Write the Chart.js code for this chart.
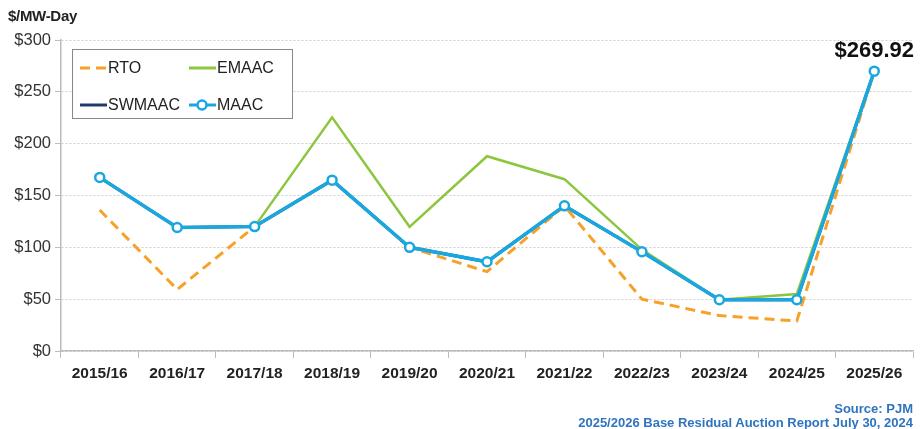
<!DOCTYPE html>
<html>
<head>
<meta charset="utf-8">
<script src="https://cdn.jsdelivr.net/npm/chart.js@4.4.1/dist/chart.umd.min.js"></script>
<style>
  html, body { margin: 0; padding: 0; background: #fff; }
  #wrap { position: relative; width: 920px; height: 429px; }
  #unit { position: absolute; left: 8px; top: 7px; font: bold 15px "Liberation Sans", Arial, sans-serif; color: #222; letter-spacing: -0.3px; }
  #source { position: absolute; right: 7px; top: 402px; text-align: right; font: bold 13px "Liberation Sans", Arial, sans-serif; color: #2f74c0; line-height: 14px; }
</style>
</head>
<body>
<div id="wrap">
  <canvas id="chart" width="920" height="429"></canvas>
  <div id="unit">$/MW-Day</div>
  <div id="source">Source: PJM<br>2025/2026 Base Residual Auction Report July 30, 2024</div>
</div>
<script>
// auction years
const years = ['2015/16', '2016/17', '2017/18', '2018/19', '2019/20', '2020/21',
               '2021/22', '2022/23', '2023/24', '2024/25', '2025/26'];

// clearing prices, $/MW-day
const rto    = [136.00, 59.37, 120.00, 164.77, 100.00, 76.53, 140.00, 50.00, 34.13, 28.92, 269.92];
const emaac  = [167.46, 119.13, 120.00, 225.42, 119.77, 187.87, 165.73, 97.86, 49.49, 54.95, 269.92];
const swmaac = [167.46, 119.13, 120.00, 164.77, 100.00, 86.04, 140.00, 95.79, 49.49, 49.49, 269.92];
const maac   = [167.46, 119.13, 120.00, 164.77, 100.00, 86.04, 140.00, 95.79, 49.49, 49.49, 269.92];

const yTicks = [0, 50, 100, 150, 200, 250, 300];

const FONT = '"Liberation Sans", Arial, sans-serif';

// last point label ($269.92)
const lastLabel = {
    id: 'lastLabel',
    afterDatasetsDraw(chart) {
        const meta = chart.getDatasetMeta(3);
        const pt = meta.data[meta.data.length - 1];
        const ctx = chart.ctx;
        ctx.save();
        ctx.font = 'bold 22px ' + FONT;
        ctx.fillStyle = '#111';
        ctx.textAlign = 'center';
        ctx.textBaseline = 'bottom';
        ctx.fillText('$' + maac[maac.length - 1].toFixed(2), pt.x, pt.y - 9);
        ctx.restore();
    }
};

// boxed legend, 2 x 2 inside the plot
const boxLegend = {
    id: 'boxLegend',
    afterDraw(chart) {
        const ctx = chart.ctx;
        const ds = chart.data.datasets;
        const x0 = 72, y0 = 49, w = 220, h = 69;
        ctx.save();
        ctx.fillStyle = '#fff';
        ctx.fillRect(x0, y0, w, h);
        ctx.strokeStyle = '#888';
        ctx.lineWidth = 1;
        ctx.strokeRect(x0 + 0.5, y0 + 0.5, w, h);
        const cells = [[0, 80, 68], [1, 189, 68], [2, 80, 105], [3, 189, 105]];
        ctx.font = '16px ' + FONT;
        ctx.textBaseline = 'middle';
        cells.forEach(([i, x, y]) => {
            const d = ds[i];
            ctx.strokeStyle = d.borderColor;
            ctx.lineWidth = 3;
            ctx.setLineDash(d.borderDash || []);
            ctx.beginPath();
            ctx.moveTo(x, y);
            ctx.lineTo(x + 27, y);
            ctx.stroke();
            ctx.setLineDash([]);
            if (d.pointRadius > 0) {
                ctx.beginPath();
                ctx.arc(x + 13, y, 4.5, 0, Math.PI * 2);
                ctx.fillStyle = '#fff';
                ctx.fill();
                ctx.lineWidth = 2.5;
                ctx.stroke();
            }
            ctx.fillStyle = '#222';
            ctx.textAlign = 'left';
            ctx.fillText(d.label, x + 28, y + 1);
        });
        ctx.restore();
    }
};

new Chart(document.getElementById('chart'), {
    type: 'line',
    data: {
        labels: years,
        datasets: [
            { label: 'RTO', data: rto, borderColor: '#f7a128', borderWidth: 3, borderDash: [10, 6],
              pointRadius: 0, order: 3, tension: 0 },
            { label: 'EMAAC', data: emaac, borderColor: '#8cc63e', borderWidth: 2.5,
              pointRadius: 0, order: 2, tension: 0 },
            { label: 'SWMAAC', data: swmaac, borderColor: '#1f3b6e', borderWidth: 3,
              pointRadius: 0, order: 4, tension: 0 },
            { label: 'MAAC', data: maac, borderColor: '#1aa7e0', borderWidth: 3.5,
              pointRadius: 4.5, pointBorderWidth: 2.5, pointBackgroundColor: '#fff',
              pointBorderColor: '#1aa7e0', order: 1, tension: 0 }
        ]
    },
    options: {
        responsive: false,
        animation: false,
        layout: { padding: { top: 40, right: 3, left: 0, bottom: 38 } },
        plugins: { legend: { display: false }, tooltip: { enabled: false } },
        scales: {
            x: {
                offset: true,
                grid: { offset: true, drawOnChartArea: false, drawTicks: true, tickLength: 7, color: '#bbb' },
                border: { color: '#bbb', width: 1.5 },
                ticks: { color: '#222', font: { family: FONT, size: 15.5, weight: 'bold' }, padding: 6, maxRotation: 0 },
                afterFit(s) { s.height = 40; }
            },
            y: {
                min: 0, max: 300,
                afterBuildTicks(s) { s.ticks = yTicks.map(v => ({ value: v })); },
                grid: { color: '#cfcfcf', tickLength: 6, tickColor: '#bbb', tickBorderDash: [] },
                border: { color: '#bbb', width: 1.5, dash: [2, 2] },
                ticks: { color: '#333', font: { family: FONT, size: 16.5 }, padding: 4,
                         callback: v => '$' + v },
                afterFit(s) { s.width = 61; }
            }
        }
    },
    plugins: [lastLabel, boxLegend]
});
</script>
</body>
</html>
